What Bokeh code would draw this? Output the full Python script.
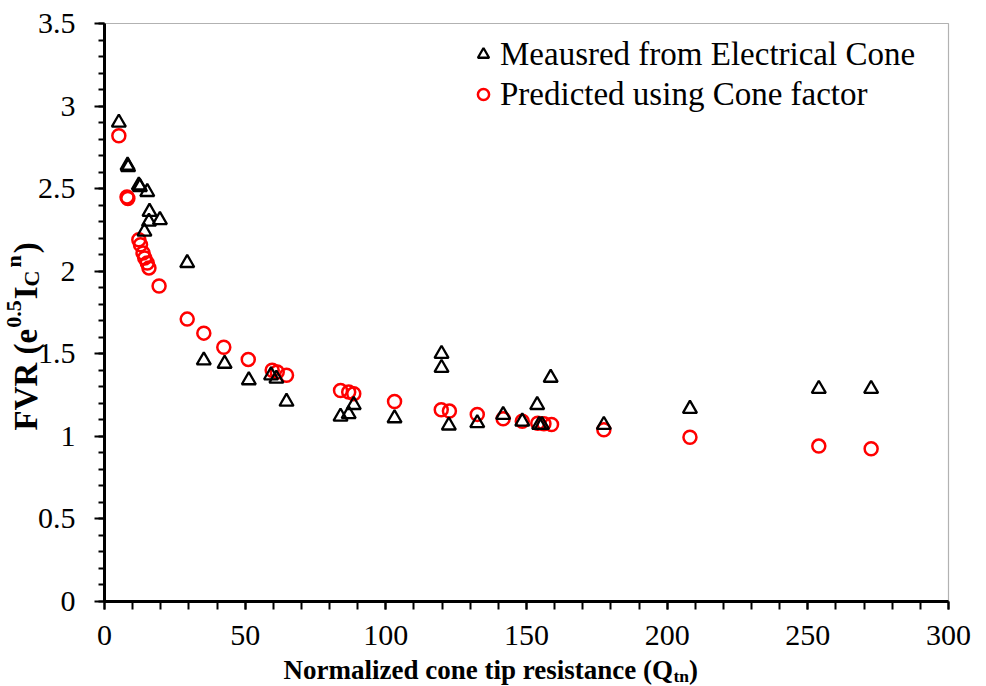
import math
from bokeh.plotting import figure
from bokeh.models import (Label, Legend, LegendItem, FixedTicker, Range1d, LinearAxis,
                          BoxAnnotation)
from bokeh.embed import file_html
from bokeh.resources import INLINE

# ---- data ----
measured_q = [5.1, 8.2, 8.4, 12.2, 12.6, 14.2, 15.2, 15.8, 16.0, 19.7, 29.4, 35.3,
              42.7, 51.3, 59.2, 61.1, 64.7, 83.9, 86.8, 88.6, 103.1, 119.8, 119.8,
              122.4, 132.5, 141.7, 148.5, 153.8, 154.5, 155.5, 158.6, 177.5, 208.1,
              253.9, 272.5]
measured_fvr = [2.90, 2.64, 2.63, 2.52, 2.51, 2.24, 2.48, 2.30, 2.36, 2.31, 2.05, 1.46,
                1.44, 1.34, 1.37, 1.35, 1.21, 1.12, 1.135, 1.19, 1.11, 1.50, 1.415,
                1.066, 1.08, 1.13, 1.09, 1.19, 1.07, 1.07, 1.355, 1.07, 1.167,
                1.288, 1.288]
predicted_q = [5.1, 8.0, 8.3, 12.2, 12.8, 13.7, 14.3, 15.2, 15.8, 19.4, 29.4, 35.3,
               42.4, 51.1, 59.6, 61.4, 64.7, 83.9, 86.8, 88.6, 103.1, 119.7, 122.6,
               132.5, 141.7, 148.5, 154.0, 156.2, 158.9, 177.5, 208.1, 253.9, 272.5]
predicted_fvr = [2.82, 2.45, 2.44, 2.19, 2.16, 2.11, 2.08, 2.05, 2.02, 1.91, 1.71, 1.625,
                 1.54, 1.466, 1.40, 1.39, 1.37, 1.278, 1.268, 1.258, 1.211, 1.161, 1.153,
                 1.133, 1.107, 1.092, 1.080, 1.076, 1.072, 1.04, 0.995, 0.941, 0.925]
series_names = ["Meausred from Electrical Cone", "Predicted using Cone factor"]
x_ticks = [0, 50, 100, 150, 200, 250, 300]
x_minor_ticks = list(range(0, 301, 10))
y_ticks = [0, 0.5, 1, 1.5, 2, 2.5, 3, 3.5]
y_minor_ticks = [i / 10 for i in range(0, 36)]
y_tick_labels = ["0", "0.5", "1", "1.5", "2", "2.5", "3", "3.5"]
X_MIN, X_MAX = 0, 300
Y_MIN, Y_MAX = 0, 3.5

SERIF = "Liberation Serif"
W, H = 986, 686
# plot-area placement inside the canvas (pixels)
PL, PR, PT, PB = 104, 38, 23, 85
kx = (W - PL - PR) / (X_MAX - X_MIN)
ky = (H - PT - PB) / (Y_MAX - Y_MIN)

p = figure(frame_width=W, frame_height=H, min_border=0, output_backend="svg",
           toolbar_location=None, x_axis_location=None, y_axis_location=None,
           x_range=Range1d(X_MIN - PL / kx, X_MAX + PR / kx),
           y_range=Range1d(Y_MIN - PB / ky, Y_MAX + PT / ky),
           background_fill_color="white", border_fill_color="white")
p.grid.visible = False
p.outline_line_color = None

# plot-area border (thin)
p.add_layout(BoxAnnotation(left=X_MIN, right=X_MAX, bottom=Y_MIN, top=Y_MAX,
                           fill_alpha=0, line_color="black", line_width=1.2))

xaxis = LinearAxis(fixed_location=Y_MIN, bounds=(X_MIN, X_MAX),
                   ticker=FixedTicker(ticks=x_ticks, minor_ticks=x_minor_ticks))
yaxis = LinearAxis(fixed_location=X_MIN, bounds=(Y_MIN, Y_MAX),
                   ticker=FixedTicker(ticks=y_ticks, minor_ticks=y_minor_ticks))
yaxis.major_label_overrides = {v: s for v, s in zip(y_ticks, y_tick_labels)}
for ax in (xaxis, yaxis):
    ax.axis_line_color = "black"
    ax.axis_line_width = 3
    ax.major_tick_line_color = "black"
    ax.minor_tick_line_color = "black"
    ax.major_tick_line_width = 2
    ax.minor_tick_line_width = 2
    ax.major_tick_in = 0
    ax.minor_tick_in = 0
    ax.major_label_text_font = SERIF
    ax.major_label_text_font_size = "30px"
    ax.major_label_text_color = "black"
xaxis.major_tick_out = 8
xaxis.minor_tick_out = 8
xaxis.major_label_standoff = 16
yaxis.major_tick_out = 10
yaxis.minor_tick_out = 6
yaxis.major_label_standoff = 19
p.add_layout(xaxis, "below")
p.add_layout(yaxis, "left")

r_pred = p.scatter(predicted_q, predicted_fvr, marker="circle", size=13,
                   fill_color=None, line_color="#FF0000", line_width=2.5)
r_meas = p.scatter(measured_q, measured_fvr, marker="triangle", size=14,
                   fill_color=None, line_color="black", line_width=2.3)

legend = Legend(items=[LegendItem(label=series_names[0], renderers=[r_meas]),
                       LegendItem(label=series_names[1], renderers=[r_pred])],
                location=(469, 573), padding=0, margin=0, spacing=2,
                glyph_width=28, glyph_height=38, label_standoff=3,
                label_text_font=SERIF, label_text_font_size="33px",
                label_text_color="black", border_line_color=None,
                background_fill_alpha=0)
p.add_layout(legend, "center")

# ---- axis titles with sub/superscripts (screen units from canvas bottom-left) ----
def piece(text, x, y, size, angle=0.0):
    p.add_layout(Label(x=x, y=y, x_units="screen", y_units="screen", text=text,
                       angle=angle, text_font=SERIF, text_font_style="bold",
                       text_font_size=f"{size}px", text_color="black",
                       text_align="left", text_baseline="alphabetic"))

# x title: Normalized cone tip resistance (Q_tn)
XB, XS = 27, 17.5
x0, base = 283, 17
w1 = 14442 * XB / 1000
piece("Normalized cone tip resistance (Q", x0, base, XB)
w2 = 889 * XS / 1000
piece("tn", x0 + w1, base - 6, XS)
piece(")", x0 + w1 + w2, base, XB)

# y title: FVR (e^0.5 I_C^n), rotated
YB, YS = 33, 22
bx, y0 = 25, 256
A = math.pi / 2
# (text, size, baseline shift, advance width in 1/1000 em, extra gap px)
segs = [("FVR (e", YB, 0, 3082, 1), ("0.5", YS, -12, 1250, 1), ("I", YB, 0, 389, 0),
        ("C", YS, 6, 722, 3), ("n", YS, -12, 556, 2), (")", YB, 0, 333, 0)]
yy = y0
for t, s, dx, w, gap in segs:
    piece(t, bx + dx, yy, s, angle=A)
    yy += w * s / 1000 + gap

open("out.html", "w").write(file_html(p, INLINE))
